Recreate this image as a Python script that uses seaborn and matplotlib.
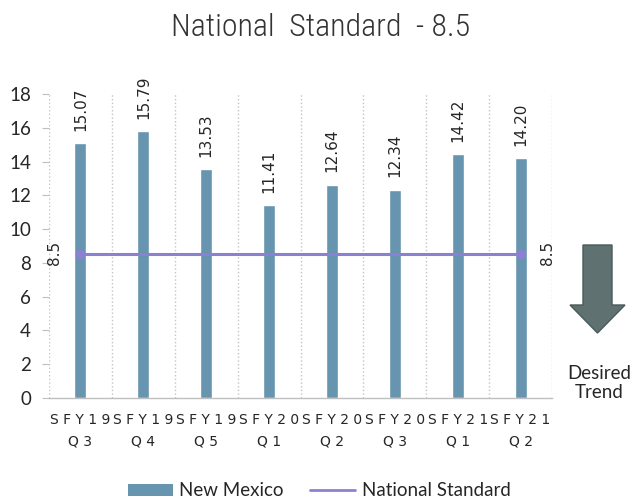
import numpy as np
import pandas as pd
import matplotlib
matplotlib.use("Agg")
import matplotlib.pyplot as plt
from matplotlib import font_manager
from matplotlib.patches import Patch, Polygon
from matplotlib.lines import Line2D
import seaborn as sns

# ---- data ----
categories = ["S F Y 1 9\nQ 3", "S F Y 1 9\nQ 4", "S F Y 1 9\nQ 5", "S F Y 2 0\nQ 1",
              "S F Y 2 0\nQ 2", "S F Y 2 0\nQ 3", "S F Y 2 1\nQ 1", "S F Y 2 1\nQ 2"]
new_mexico = [15.07, 15.79, 13.53, 11.41, 12.64, 12.34, 14.42, 14.20]
national_standard = [8.5, 8.5, 8.5, 8.5, 8.5, 8.5, 8.5, 8.5]
title = "National  Standard  - 8.5"
series_names = ["New Mexico", "National Standard"]
yticks = [0, 2, 4, 6, 8, 10, 12, 14, 16, 18]

bar_color = "#6794AE"
line_color = "#8C80D2"
arrow_color = "#5F7171"
text_color = "#262626"

sns.set_theme(style="white")
available = {f.name for f in font_manager.fontManager.ttflist}
body_font = "Lato" if "Lato" in available else "DejaVu Sans"
title_font = "DejaVu Sans"
for cand in ["Liberation Sans Narrow", "Roboto Condensed", "DejaVu Sans Condensed", "Open Sans Condensed"]:
    if cand in available:
        title_font = cand
        break
plt.rcParams["font.family"] = [body_font, "DejaVu Sans"]

df = pd.DataFrame({"cat": categories, "val": new_mexico})

fig = plt.figure(figsize=(6.36, 5.04), dpi=100)
ax = fig.add_axes([49 / 636, 1 - 398 / 504, (552 - 49) / 636, (398 - 94) / 504])

sns.barplot(data=df, x="cat", y="val", color=bar_color, saturation=1, width=0.19, ax=ax)
bars = ax.containers[0]
ax.bar_label(bars, labels=[f"{v:.2f}" for v in new_mexico], rotation=90, padding=9,
             fontsize=11, color=text_color, family="DejaVu Sans")

xpos = np.arange(len(categories))
sns.lineplot(x=xpos, y=national_standard, color=line_color, linewidth=2.2,
             marker="o", markersize=7, markevery=[0, len(xpos) - 1],
             markeredgewidth=0, ax=ax, legend=False)
ax.annotate(f"{national_standard[0]}", (xpos[0], national_standard[0]), xytext=(-19, 1),
            textcoords="offset points", rotation=90, ha="center", va="center",
            fontsize=11, color=text_color, family="DejaVu Sans")
ax.annotate(f"{national_standard[-1]}", (xpos[-1], national_standard[-1]), xytext=(19.5, 1),
            textcoords="offset points", rotation=90, ha="center", va="center",
            fontsize=11, color=text_color, family="DejaVu Sans")

ax.set_xlim(-0.5, len(categories) - 0.5)
ax.set_ylim(0, 18)
ax.set_yticks(yticks)
ax.set_xlabel("")
ax.set_ylabel("")
ax.set_xticks(xpos)
ax.set_xticklabels(categories, fontsize=10, color=text_color, family="DejaVu Sans", linespacing=1.7)
ax.tick_params(axis="x", length=0, pad=11)
ax.tick_params(axis="y", length=5, color="#bfbfbf", width=0.8, labelsize=13.5,
               labelcolor=text_color, left=True, pad=8)
ax.set_xticks(np.arange(-0.5, len(categories)), minor=True)
ax.tick_params(axis="x", which="minor", length=0)
ax.grid(False)
ax.grid(True, axis="x", which="minor", linestyle=":", color="#c4c4c4", linewidth=1)
for s in ["top", "right", "left"]:
    ax.spines[s].set_visible(False)
ax.spines["bottom"].set_color("#bfbfbf")
ax.spines["bottom"].set_linewidth(1)

fig.text(321 / 636, 1 - 36 / 504, title, ha="center", va="baseline", fontsize=23,
         family=title_font, fontweight="light", color="#333333")

handles = [Patch(facecolor=bar_color, edgecolor="none"),
           Line2D([0], [0], color=line_color, linewidth=2)]
fig.legend(handles, series_names, loc="center", bbox_to_anchor=(319 / 636, 13 / 504), ncol=2,
           frameon=False, fontsize=13.5, handlelength=2.4, handleheight=0.55,
           columnspacing=1.4, handletextpad=0.35, labelcolor=text_color)

# decorative "desired trend" arrow
pts = [(583, 245), (612, 245), (612, 305), (625, 305), (597.5, 333), (570, 305), (583, 305)]
fig.patches.append(Polygon([(x / 636, 1 - y / 504) for x, y in pts], closed=True,
                           transform=fig.transFigure, facecolor=arrow_color,
                           edgecolor="#4a5a5a", linewidth=1))
fig.text(599 / 636, 1 - 383 / 504, "Desired\nTrend", ha="center", va="center",
         fontsize=13.5, color=text_color, linespacing=1.15)

fig.savefig("out.png", dpi=100)
